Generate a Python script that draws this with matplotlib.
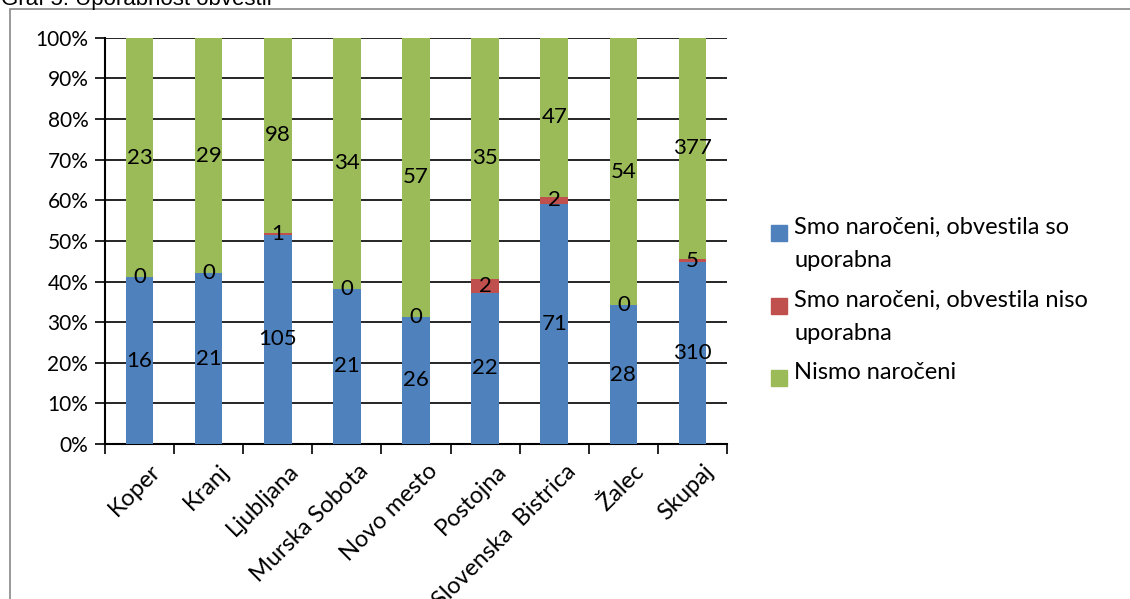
import numpy as np
import matplotlib.pyplot as plt
from matplotlib.patches import Rectangle

plt.rcParams['font.family'] = ['Lato', 'DejaVu Sans']

kraji = ['Koper', 'Kranj', 'Ljubljana', 'Murska Sobota', 'Novo mesto',
         'Postojna', 'Slovenska  Bistrica', 'Žalec', 'Skupaj']
uporabna = [16, 21, 105, 21, 26, 22, 71, 28, 310]
neuporabna = [0, 0, 1, 0, 0, 2, 2, 0, 5]
nenaroceni = [23, 29, 98, 34, 57, 35, 47, 54, 377]

serije = [
    ('Smo naročeni, obvestila so\nuporabna', uporabna, '#4F81BD'),
    ('Smo naročeni, obvestila niso\nuporabna', neuporabna, '#C0504D'),
    ('Nismo naročeni', nenaroceni, '#9BBB59'),
]

skupaj = np.array(uporabna) + np.array(neuporabna) + np.array(nenaroceni)
x = np.arange(len(kraji))

fig = plt.figure(figsize=(11.3, 5.99), dpi=100)
ax = fig.add_axes([0.0929, 0.2588, 0.5505, 0.678])

spodaj = np.zeros(len(kraji))
for ime, vals, barva in serije:
    delez = np.array(vals) / skupaj * 100
    ax.bar(x, delez, 0.4, bottom=spodaj, color=barva, zorder=3)
    for xi, b, d, v in zip(x, spodaj, delez, vals):
        ax.text(xi, b + d / 2, str(v), ha='center', va='center',
                fontsize=16, zorder=4)
    spodaj += delez

ax.set_xlim(-0.5, len(kraji) - 0.5)
ax.set_ylim(0, 100)
ax.set_yticks(np.arange(0, 101, 10))
ax.set_yticklabels([f'{v}%' for v in range(0, 101, 10)], fontsize=15)
ax.yaxis.grid(True, color='black', linewidth=1.2, zorder=0)
ax.tick_params(axis='y', length=7, width=1.2, pad=5)

ax.set_xticks(x + 0.15)
ax.set_xticklabels(kraji, rotation=45, ha='right', rotation_mode='anchor',
                   fontsize=17)
ax.tick_params(axis='x', length=0, pad=12)
ax.set_xticks(np.arange(-0.5, len(kraji)), minor=True)
ax.tick_params(axis='x', which='minor', length=7, width=1.2)

for s in ['top', 'right']:
    ax.spines[s].set_visible(False)
for s in ['left', 'bottom']:
    ax.spines[s].set_color('black')
    ax.spines[s].set_linewidth(1.5)

# okvir grafa
fig.patches.append(Rectangle((10 / 1130, -0.1), 1.2, 1 - 9 / 599 + 0.1,
                             transform=fig.transFigure, fill=False,
                             edgecolor='#888888', linewidth=1.2))
fig.text(1 / 1130, 1 - 5 / 599, 'Graf 5: Uporabnost obvestil',
         family='Liberation Sans', fontsize=16, va='baseline')

# legenda
vrstice = [(233, 'Smo naročeni, obvestila so\nuporabna'),
           (306, 'Smo naročeni, obvestila niso\nuporabna'),
           (378, 'Nismo naročeni')]
for (y, ime), (_, _, barva) in zip(vrstice, serije):
    fig.patches.append(Rectangle((771 / 1130, 1 - (y + 8) / 599),
                                 16 / 1130, 16 / 599,
                                 transform=fig.transFigure, color=barva))
    fig.text(794 / 1130, 1 - (y - 16) / 599, ime, fontsize=17,
             va='top', linespacing=1.72)

fig.savefig('out.png')
